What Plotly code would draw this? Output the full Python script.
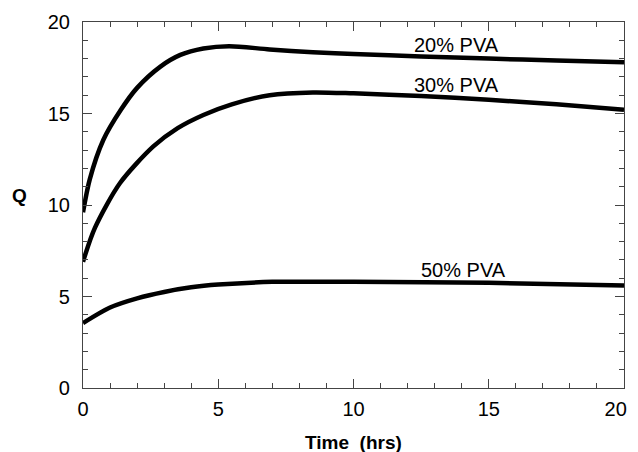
import plotly.graph_objects as go

time_hrs = [0, 0.25, 0.75, 1.4, 2, 2.85, 3.6, 4.45, 5.4, 6.9, 8.5, 10, 12.5, 15, 17.5, 20]
pva20 = [9.6, 11.4, 13.55, 15.2, 16.4, 17.55, 18.2, 18.55, 18.68, 18.5, 18.35, 18.25, 18.12, 18.0, 17.9, 17.8]

time30 = [0, 0.44, 1.37, 2.6, 3.5, 4.45, 5.5, 6.9, 8.5, 10, 12.5, 15, 17.5, 20]
pva30 = [6.9, 8.75, 11.2, 13.2, 14.2, 14.92, 15.5, 16.0, 16.15, 16.1, 15.95, 15.75, 15.5, 15.2]

time50 = [0, 1, 2, 3, 4, 5, 7, 10, 15, 20]
pva50 = [3.55, 4.4, 4.9, 5.25, 5.5, 5.65, 5.8, 5.8, 5.75, 5.6]

x_tickvals = [0, 5, 10, 15, 20]
x_ticklabels = ["0", "5", "10", "15", "20"]

labels = ["20% PVA", "30% PVA", "50% PVA"]
label_x = [13.8, 13.8, 14.05]
label_y = [18.74, 16.56, 6.45]

font = "Liberation Sans, Arial, Helvetica, sans-serif"

W, H = 630, 444
ML, MR, MT, MB = 75, 14, 14, 64
PW, PH = W - ML - MR, H - MT - MB

fig = go.Figure()
for xs, ys in [(time_hrs, pva20), (time30, pva30), (time50, pva50)]:
    fig.add_trace(go.Scatter(x=xs, y=ys, mode="lines",
                             line=dict(color="black", width=4.5, shape="spline", smoothing=0.8),
                             showlegend=False, hoverinfo="skip"))

for t, lx, ly in zip(labels, label_x, label_y):
    fig.add_annotation(x=lx, y=ly, text=t, showarrow=False,
                       font=dict(family=font, size=20, color="black"))

fig.add_annotation(xref="paper", yref="paper", x=-64 / PW, y=(PH + MT - 187) / PH,
                   text="<b>Q</b>", showarrow=False, xanchor="center", yanchor="middle",
                   font=dict(family=font, size=19, color="black"))
fig.add_annotation(xref="paper", yref="paper", x=0.5, y=-54 / PH,
                   text="<b>Time&nbsp;&nbsp;(hrs)</b>", showarrow=False, xanchor="center", yanchor="middle",
                   font=dict(family=font, size=19, color="black"))

axis_common = dict(
    showline=True, linecolor="#444", linewidth=1.2, mirror="ticks",
    ticks="inside", ticklen=9, tickwidth=1.2, tickcolor="#444",
    showgrid=False, zeroline=False, automargin=False,
    tickfont=dict(family=font, size=20, color="black"),
    minor=dict(ticks="inside", ticklen=5, tickwidth=1, tickcolor="#444", dtick=1, showgrid=False),
)

# pad the last x label so it stays inside the visible page edge
x_ticktext = x_ticklabels[:-1] + [x_ticklabels[-1] + "&nbsp;&nbsp;&nbsp;"]

fig.update_xaxes(range=[0, 20], tickmode="array", tickvals=x_tickvals, ticktext=x_ticktext,
                 ticklabelstandoff=3, ticklabeloverflow="allow", **axis_common)
fig.update_yaxes(range=[0, 20], dtick=5, tick0=0, ticklabelstandoff=8, **axis_common)

fig.update_layout(width=W, height=H,
                  margin=dict(l=ML, r=MR, t=MT, b=MB),
                  plot_bgcolor="white", paper_bgcolor="white")

fig.write_html("out.html")
